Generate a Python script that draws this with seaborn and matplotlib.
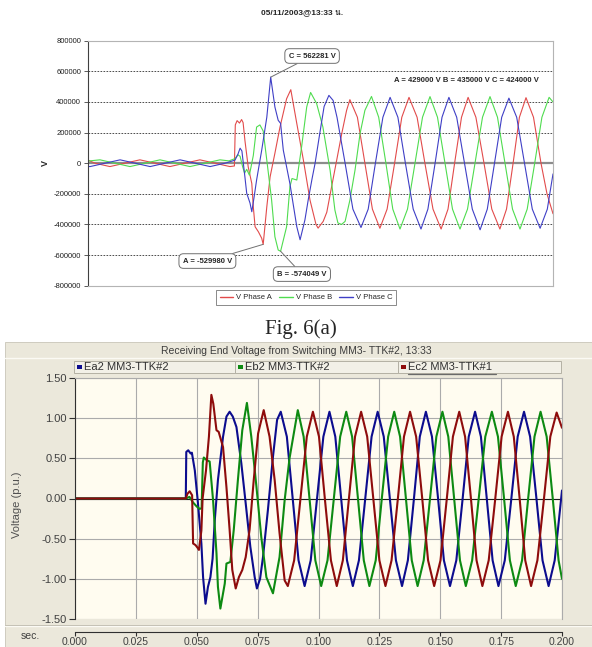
import pandas as pd
import numpy as np
import seaborn as sns
import matplotlib.pyplot as plt
from matplotlib import font_manager
from matplotlib.patches import Rectangle
from matplotlib.lines import Line2D
from matplotlib.ticker import FuncFormatter
from fontTools.ttLib import TTFont

# ---------- upper chart : recorded phase voltages (t in ms, V) ----------
top_a = [(0, 20000), (2.3, 0), (7.3, -22000), (12.3, 0), (17.3, 22000), (22.3, 0),
         (27.3, -22000), (32.3, 0), (37.3, 22000), (42.3, 0), (47.3, -22000), (48.8, -18000),
         (49.1, 250000), (49.7, 278000), (50.5, 262000), (51.2, 285000), (51.7, 265000),
         (52.3, 150000), (53.4, -24000), (54.6, -133000), (55.1, -285000), (55.7, -415000),
         (56.8, -448000), (57.9, -490000), (58.4, -530000), (59.6, -285000), (60.7, -89000),
         (62.3, 65000), (64.0, 236000), (66.2, 421000), (67.6, 480000), (69.6, 259000),
         (71.8, 20000), (74.0, -241000), (76.0, -400000), (76.7, -424000), (78.4, -380000),
         (79.6, -320000), (81.2, -154000), (82.9, 20000), (84.6, 195000), (86.2, 345000),
         (87.3, 415000), (89.8, 300000), (92.3, 0), (94.8, -300000), (97.3, -425000),
         (99.7, -300000), (102.2, 0), (104.6, 300000), (107.0, 430000), (109.7, 300000),
         (112.3, 0), (115.0, -300000), (117.7, -430000), (120.0, -300000), (122.2, 0),
         (124.5, 300000), (126.7, 430000), (129.3, 300000), (132.0, 0), (134.6, -300000),
         (137.3, -430000), (139.5, -300000), (141.7, 0), (143.8, 300000), (146.0, 428000),
         (148.5, 300000), (151.0, 0), (153.0, -200000), (155.0, -330000)]
top_b = [(0, 14000), (4.0, 22000), (9.0, 0), (14.0, -22000), (19.0, 0), (24.0, 22000),
         (29.0, 0), (34.0, -22000), (39.0, 0), (44.0, 22000), (47.0, 15000), (49.0, 30000),
         (50.0, 55000), (50.7, 45000), (51.5, -20000), (52.2, -65000), (52.9, -40000),
         (53.8, -78000), (55.1, 50000), (56.2, 236000), (57.3, 250000), (58.4, 210000),
         (59.6, 20000), (61.2, -240000), (62.3, -480000), (63.4, -567000), (64.2, -575000),
         (66.2, -415000), (67.3, -154000), (68.0, -100000), (69.6, -110000), (71.2, 106000),
         (72.9, 367000), (74.2, 462000), (76.2, 390000), (78.3, 236000), (80.7, -46000),
         (82.3, -306000), (83.3, -390000), (84.5, -400000), (85.7, -380000), (87.3, -241000),
         (89.0, -46000), (90.7, 195000), (92.3, 345000), (94.5, 436000), (96.9, 300000),
         (99.3, 0), (101.6, -300000), (104.0, -430000), (106.5, -300000), (109.0, 0),
         (111.5, 300000), (114.0, 435000), (116.5, 300000), (119.0, 0), (121.5, -300000),
         (124.0, -430000), (126.5, -300000), (129.0, 0), (131.5, 300000), (134.0, 435000),
         (136.5, 300000), (139.0, 0), (141.5, -300000), (144.0, -430000), (146.4, -300000),
         (148.9, 0), (151.3, 300000), (153.7, 430000), (155.0, 400000)]
top_c = [(0, -21000), (0.7, -22000), (5.7, 0), (10.7, 22000), (15.7, 0), (20.7, -22000),
         (25.7, 0), (30.7, 22000), (35.7, 0), (40.7, -22000), (45.7, 0), (49.0, 20000),
         (50.0, 60000), (50.7, 98000), (51.3, 80000), (52.3, -89000), (52.9, -196000),
         (54.0, -260000), (54.6, -317000), (55.3, -230000), (56.2, -110000), (57.9, 85000),
         (59.6, 300000), (60.9, 562000), (62.3, 367000), (63.4, 280000), (64.2, 260000),
         (65.1, 85000), (67.3, -133000), (69.6, -415000), (70.7, -500000), (72.3, -371000),
         (73.4, -240000), (74.7, -100000), (75.7, 0), (77.3, 200000), (78.7, 370000),
         (80.3, 443000), (81.7, 410000), (83.0, 300000), (85.7, 0), (88.3, -300000),
         (91.0, -420000), (93.4, -300000), (95.8, 0), (98.3, 300000), (100.7, 430000),
         (103.3, 300000), (105.8, 0), (108.4, -300000), (111.0, -430000), (113.3, -300000),
         (115.7, 0), (118.0, 300000), (120.3, 430000), (122.9, 300000), (125.5, 0),
         (128.1, -300000), (130.7, -435000), (133.1, -300000), (135.5, 0), (137.9, 300000),
         (140.3, 425000), (142.9, 300000), (145.5, 0), (148.1, -300000), (150.7, -425000),
         (153.1, -300000), (155.0, -70000)]
top_names = ['V Phase A', 'V Phase B', 'V Phase C']
top_colors = ['#e24b4b', '#4fdc4f', '#3f3fc6']
top_title = '05/11/2003@13:33 น.'
top_rms = 'A = 429000 V B = 435000 V C = 424000 V'

# ---------- lower chart : simulated receiving end voltage (t in s, p.u.) ----------
bot_ea = [(0.0, 0.0), (0.0455, 0.0), (0.0457, 0.58), (0.0465, 0.60), (0.0475, 0.56),
          (0.0480, 0.57), (0.0492, 0.35), (0.0505, -0.06), (0.0519, -0.56), (0.0526, -0.98),
          (0.0536, -1.31), (0.0546, -1.10), (0.0556, -0.98), (0.0565, -0.75), (0.0574, -0.27),
          (0.0587, 0.23), (0.0608, 0.77), (0.0622, 1.02), (0.0635, 1.08), (0.0648, 1.02),
          (0.0663, 0.89), (0.0683, 0.44), (0.0701, -0.06), (0.0720, -0.60), (0.0738, -0.98),
          (0.0747, -1.12), (0.0760, -1.00), (0.0772, -0.73), (0.0792, -0.15), (0.0813, 0.52),
          (0.0830, 0.98), (0.0845, 1.08), (0.0870, 0.77), (0.0894, 0.00), (0.0918, -0.77),
          (0.0943, -1.09), (0.0968, -0.77), (0.0994, 0.00), (0.1020, 0.77), (0.1045, 1.08),
          (0.1069, 0.77), (0.1093, 0.00), (0.1117, -0.77), (0.1141, -1.09), (0.1166, -0.77),
          (0.1192, 0.00), (0.1218, 0.77), (0.1243, 1.08), (0.1268, 0.77), (0.1293, 0.00),
          (0.1318, -0.77), (0.1343, -1.09), (0.1367, -0.77), (0.1392, 0.00), (0.1416, 0.77),
          (0.1441, 1.08), (0.1466, 0.77), (0.1491, 0.00), (0.1515, -0.77), (0.1540, -1.09),
          (0.1566, -0.77), (0.1592, 0.00), (0.1617, 0.77), (0.1643, 1.08), (0.1667, 0.77),
          (0.1691, 0.00), (0.1715, -0.77), (0.1739, -1.09), (0.1765, -0.77), (0.1792, 0.00),
          (0.1818, 0.77), (0.1844, 1.08), (0.1869, 0.77), (0.1895, 0.00), (0.1920, -0.77),
          (0.1945, -1.09), (0.1970, -0.77), (0.2000, 0.10)]
bot_eb = [(0.0, 0.0), (0.0455, 0.0), (0.0470, 0.02), (0.0485, -0.05), (0.0500, -0.10),
          (0.0512, -0.13), (0.0520, -0.12), (0.0525, 0.45), (0.0529, 0.51), (0.0540, 0.48),
          (0.0553, 0.46), (0.0567, -0.02), (0.0581, -0.68), (0.0587, -1.10), (0.0597, -1.37),
          (0.0615, -1.06), (0.0622, -0.81), (0.0638, -0.79), (0.0652, -0.39), (0.0669, 0.23),
          (0.0687, 0.85), (0.0706, 1.19), (0.0724, 0.77), (0.0745, 0.15), (0.0765, -0.48),
          (0.0786, -0.98), (0.0813, -1.18), (0.0840, -0.73), (0.0861, -0.02), (0.0881, 0.50),
          (0.0915, 1.10), (0.0939, 0.77), (0.0963, 0.00), (0.0987, -0.77), (0.1011, -1.09),
          (0.1037, -0.77), (0.1063, 0.00), (0.1089, 0.77), (0.1114, 1.08), (0.1138, 0.77),
          (0.1162, 0.00), (0.1186, -0.77), (0.1209, -1.09), (0.1235, -0.77), (0.1260, 0.00),
          (0.1286, 0.77), (0.1311, 1.08), (0.1335, 0.77), (0.1359, 0.00), (0.1383, -0.77),
          (0.1407, -1.09), (0.1432, -0.77), (0.1458, 0.00), (0.1484, 0.77), (0.1509, 1.08),
          (0.1533, 0.77), (0.1557, 0.00), (0.1581, -0.77), (0.1605, -1.09), (0.1631, -0.77),
          (0.1658, 0.00), (0.1685, 0.77), (0.1712, 1.08), (0.1737, 0.77), (0.1762, 0.00),
          (0.1786, -0.77), (0.1810, -1.09), (0.1836, -0.77), (0.1861, 0.00), (0.1887, 0.77),
          (0.1912, 1.08), (0.1937, 0.77), (0.1962, 0.00), (0.1986, -0.77), (0.2000, -1.00)]
bot_ec = [(0.0, 0.0), (0.0455, 0.0), (0.0462, 0.06), (0.0471, 0.09), (0.0481, 0.04),
          (0.0485, -0.56), (0.0495, -0.58), (0.0505, -0.62), (0.0509, -0.64), (0.0519, -0.40),
          (0.0524, 0.00), (0.0538, 0.35), (0.0550, 0.77), (0.0560, 1.29), (0.0568, 1.18),
          (0.0581, 0.85), (0.0590, 0.83), (0.0608, 0.64), (0.0622, 0.14), (0.0635, -0.39),
          (0.0646, -0.89), (0.0660, -1.12), (0.0673, -0.98), (0.0687, -0.89), (0.0701, -0.73),
          (0.0717, -0.39), (0.0734, 0.23), (0.0752, 0.81), (0.0775, 1.10), (0.0799, 0.77),
          (0.0820, 0.23), (0.0840, -0.43), (0.0861, -1.02), (0.0874, -1.09), (0.0900, -0.77),
          (0.0926, 0.00), (0.0952, 0.77), (0.0977, 1.08), (0.1002, 0.77), (0.1026, 0.00),
          (0.1051, -0.77), (0.1075, -1.09), (0.1100, -0.77), (0.1125, 0.00), (0.1150, 0.77),
          (0.1175, 1.08), (0.1200, 0.77), (0.1225, 0.00), (0.1250, -0.77), (0.1275, -1.09),
          (0.1300, -0.77), (0.1326, 0.00), (0.1351, 0.77), (0.1376, 1.08), (0.1401, 0.77),
          (0.1426, 0.00), (0.1450, -0.77), (0.1475, -1.09), (0.1501, -0.77), (0.1527, 0.00),
          (0.1552, 0.77), (0.1578, 1.08), (0.1602, 0.77), (0.1626, 0.00), (0.1649, -0.77),
          (0.1673, -1.09), (0.1699, -0.77), (0.1726, 0.00), (0.1752, 0.77), (0.1778, 1.08),
          (0.1802, 0.77), (0.1826, 0.00), (0.1849, -0.77), (0.1873, -1.09), (0.1899, -0.77),
          (0.1926, 0.00), (0.1952, 0.77), (0.1978, 1.07), (0.2000, 0.88)]
bot_names = ['Ea2 MM3-TTK#2', 'Eb2 MM3-TTK#2', 'Ec2 MM3-TTK#1']
bot_colors = ['#0c0c8e', '#0d8a12', '#8e0c0c']
bot_title = 'Receiving End Voltage from Switching MM3- TTK#2, 13:33'


def long_df(series, names):
    rows = []
    for name, pts in zip(names, series):
        for t, v in pts:
            rows.append((name, t, v))
    return pd.DataFrame(rows, columns=['phase', 't', 'v'])


def families_with(char):
    # installed families that actually carry a glyph for char
    found = []
    for f in font_manager.fontManager.ttflist:
        if f.name in found:
            continue
        try:
            cmap = TTFont(f.fname, fontNumber=0, lazy=True).getBestCmap()
        except Exception:
            continue
        if cmap and ord(char) in cmap:
            found.append(f.name)
    return found


df_top = long_df([top_a, top_b, top_c], top_names)
df_bot = long_df([bot_ea, bot_eb, bot_ec], bot_names)

W, H = 592, 647
def fx(px):
    return px / W
def fy(py):
    return 1 - py / H

sns.set_theme(style='white')
plt.rcParams['font.family'] = ['Liberation Sans', 'DejaVu Sans', 'Noto Sans']
thai = families_with('น')

fig = plt.figure(figsize=(W / 100, H / 100), dpi=100)

# ---------------- upper chart ----------------
ax1 = fig.add_axes([fx(88), fy(285.7), fx(553) - fx(88), fy(40.7) - fy(285.7)])
sns.lineplot(data=df_top, x='t', y='v', hue='phase', hue_order=top_names,
             palette=top_colors, estimator=None, sort=False, lw=0.8, legend=False, ax=ax1)
ax1.set_xlim(0, 155)
ax1.set_ylim(-800000, 800000)
ax1.set_yticks(np.arange(-800000, 800001, 200000))
ax1.yaxis.set_major_formatter(FuncFormatter(lambda v, p: f'{int(round(v))}'))
ax1.set_xticks([])
ax1.set_xlabel('')
ax1.set_ylabel('')
for v in np.arange(-600000, 600001, 200000):
    if v != 0:
        ax1.axhline(v, color='#303030', lw=0.6, ls=(0, (2, 1.6)), zorder=0.5)
ax1.axhline(0, color='#8c8c8c', lw=1.6, zorder=0.6)
ax1.tick_params(axis='y', left=True, length=3, width=0.6, color='#404040',
                labelsize=5.5, pad=2, labelcolor='#202020')
for s in ['top', 'right', 'bottom']:
    ax1.spines[s].set_color('#b4b4b4')
    ax1.spines[s].set_linewidth(0.8)
ax1.spines['left'].set_color('#404040')
ax1.spines['left'].set_linewidth(0.8)

box = dict(boxstyle='round,pad=0.5,rounding_size=0.6', fc='white', ec='#707070', lw=0.7)
arrow = dict(arrowstyle='-', color='#707070', lw=0.7, shrinkA=0, shrinkB=0)
ax1.annotate('C = 562281 V', xy=(60.9, 562000), xytext=(74.7, 700000), fontsize=5.5,
             fontweight='bold', ha='center', va='center', bbox=box, arrowprops=arrow)
ax1.annotate('A = -529980 V', xy=(58.4, -530000), xytext=(39.8, -639000), fontsize=5.5,
             fontweight='bold', ha='center', va='center', bbox=box, arrowprops=arrow)
ax1.annotate('B = -574049 V', xy=(64.2, -575000), xytext=(71.3, -724000), fontsize=5.5,
             fontweight='bold', ha='center', va='center', bbox=box, arrowprops=arrow)
ax1.text(126.3, 543000, top_rms, fontsize=5.5, fontweight='bold', ha='center', va='center')

fig.text(fx(45), fy(163), 'V', rotation=90, fontsize=6.5, fontweight='bold',
         ha='center', va='center')
fig.text(fx(302), fy(12.5), top_title, fontsize=6, fontweight='bold', ha='center', va='center',
         family=['Liberation Sans', 'DejaVu Sans'] + thai)

handles = [Line2D([], [], color=c, lw=1.0) for c in top_colors]
leg = fig.legend(handles, top_names, loc='center', bbox_to_anchor=(fx(306), fy(297.5)),
                 ncol=3, fontsize=5.5, frameon=True, fancybox=False, edgecolor='#555555',
                 handlelength=1.8, handletextpad=0.4, columnspacing=0.9, borderpad=0.45)
leg.get_frame().set_linewidth(0.6)

fig.text(fx(301), fy(329), 'Fig. 6(a)', fontsize=15, family='Liberation Serif',
         ha='center', va='center')

# ---------------- lower chart ----------------
fig.add_artist(Rectangle((fx(5), 0), 1 - fx(5), fy(342), transform=fig.transFigure,
                         fc='#ebe8db', ec='#c8c5b8', lw=0.6, zorder=0))
fig.add_artist(Line2D([fx(5), 1], [fy(358), fy(358)], color='#fbfaf4', lw=1.0))
fig.add_artist(Line2D([fx(5), 1], [fy(626), fy(626)], color='#fbfaf4', lw=1.0))
fig.add_artist(Line2D([fx(5), 1], [fy(625), fy(625)], color='#bebbae', lw=0.6))
fig.text(fx(296), fy(351), bot_title, fontsize=7.5, color='#3c3c3c', ha='center', va='center')

ax2 = fig.add_axes([fx(75), fy(619), fx(562) - fx(75), fy(378) - fy(619)], facecolor='#fffcf0')
sns.lineplot(data=df_bot, x='t', y='v', hue='phase', hue_order=bot_names,
             palette=bot_colors, estimator=None, sort=False, lw=1.5, legend=False, ax=ax2)
ax2.set_xlim(0, 0.2)
ax2.set_ylim(-1.5, 1.5)
ax2.set_xticks(np.arange(0, 0.2001, 0.025))
ax2.set_yticks(np.arange(-1.5, 1.501, 0.5))
ax2.xaxis.set_major_formatter(FuncFormatter(lambda v, p: f'{v:.3f}'))
ax2.yaxis.set_major_formatter(FuncFormatter(lambda v, p: f'{v:.2f}'))
ax2.set_xlabel('')
ax2.set_ylabel('')
ax2.grid(True, color='#ababab', lw=0.8)
ax2.set_axisbelow(True)
ax2.axhline(0, color='#1a1a1a', lw=0.8, zorder=1.5)
ax2.tick_params(axis='y', left=True, labelsize=8, labelcolor='#404040', color='#303030',
                length=4, width=0.8, pad=2)
ax2.tick_params(axis='x', bottom=True, labelsize=7.5, labelcolor='#404040', color='#303030',
                length=3, width=0.8, pad=1)
ax2.spines['bottom'].set_position(('outward', 9))
for s in ['left', 'bottom']:
    ax2.spines[s].set_color('#303030')
    ax2.spines[s].set_linewidth(0.8)
for s in ['top', 'right']:
    ax2.spines[s].set_color('#ababab')
    ax2.spines[s].set_linewidth(0.8)

fig.text(fx(17), fy(505), 'Voltage (p.u.)', rotation=90, fontsize=8, color='#505050',
         ha='center', va='center')
fig.text(fx(30), fy(636), 'sec.', fontsize=7.5, color='#404040', ha='center', va='center')

cells = [(74, 235), (235, 398), (398, 561)]
for (x0, x1), name, col in zip(cells, bot_names, bot_colors):
    fig.add_artist(Rectangle((fx(x0), fy(373)), fx(x1) - fx(x0), fy(361) - fy(373),
                             transform=fig.transFigure, fc='#f2f0e7', ec='#b4b1a4', lw=0.7))
    fig.add_artist(Rectangle((fx(x0 + 3), fy(368.5)), fx(5), fy(365) - fy(368.5),
                             transform=fig.transFigure, fc=col, ec='none'))
    fig.text(fx(x0 + 10), fy(367), name, fontsize=8, color='#303030', ha='left', va='center')
fig.add_artist(Line2D([fx(408), fx(496)], [fy(373.5), fy(373.5)], color='#6a6a6a', lw=0.9))

fig.savefig('out.png', dpi=100)
